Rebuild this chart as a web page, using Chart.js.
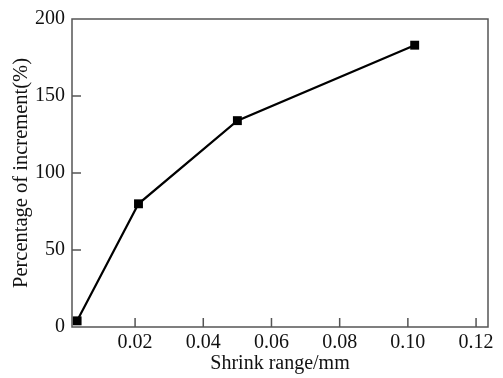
<!DOCTYPE html>
<html>
<head>
<meta charset="utf-8">
<script src="https://cdn.jsdelivr.net/npm/chart.js@4/dist/chart.umd.min.js"></script>
<style>
  html, body { margin: 0; padding: 0; background: #fff; }
  #wrap { width: 503px; height: 378px; }
</style>
</head>
<body>
<div id="wrap"><canvas id="c" width="503" height="378"></canvas></div>
<script>
const shrinkRange = [0.003, 0.021, 0.050, 0.102];
const increment = [4, 80, 134, 183];
const xTickValues = [0.02, 0.04, 0.06, 0.08, 0.10, 0.12];
const yTickValues = [0, 50, 100, 150, 200];
const xTitle = 'Shrink range/mm';
const yTitle = 'Percentage of increment(%)';

const FAMILY = '"Liberation Serif", "DejaVu Serif", serif';
const TICK_FONT = { family: FAMILY, size: 20 };
const XTITLE_FONT = { family: FAMILY, size: 20 };
const YTITLE_FONT = { family: FAMILY, size: 20.5 };
const AXIS_COLOR = '#555';

const frameTicks = {
  id: 'frameTicks',
  afterDraw(chart) {
    const { ctx, chartArea: a, scales } = chart;
    ctx.save();
    ctx.strokeStyle = AXIS_COLOR;
    ctx.lineWidth = 1.5;
    ctx.strokeRect(a.left, a.top, a.right - a.left, a.bottom - a.top);
    ctx.beginPath();
    const TL = 9;
    xTickValues.forEach(v => {
      const px = scales.x.getPixelForValue(v);
      if (px > a.left + 2 && px < a.right - 2) {
        ctx.moveTo(px, a.bottom);
        ctx.lineTo(px, a.bottom - TL);
      }
    });
    yTickValues.forEach(v => {
      const py = scales.y.getPixelForValue(v);
      if (py > a.top + 2 && py < a.bottom - 2) {
        ctx.moveTo(a.left, py);
        ctx.lineTo(a.left + TL, py);
      }
    });
    ctx.stroke();
    ctx.restore();
  }
};

new Chart(document.getElementById('c'), {
  type: 'scatter',
  data: {
    datasets: [{
      data: shrinkRange.map((x, i) => ({ x, y: increment[i] })),
      showLine: true,
      borderColor: '#000',
      borderWidth: 2.2,
      backgroundColor: '#000',
      pointStyle: 'rect',
      pointRadius: 6.3,
      pointHoverRadius: 6.3,
      pointBorderWidth: 0,
      tension: 0
    }]
  },
  options: {
    responsive: false,
    animation: false,
    events: [],
    layout: { padding: { left: 0, right: 15, top: 17, bottom: 0 } },
    plugins: { legend: { display: false }, tooltip: { enabled: false } },
    scales: {
      x: {
        type: 'linear',
        min: 0.0015,
        max: 0.1235,
        afterBuildTicks(scale) { scale.ticks = xTickValues.map(v => ({ value: v })); },
        afterFit(scale) { scale.height = 51; },
        grid: { display: false, drawTicks: false },
        border: { display: false },
        ticks: {
          color: '#111', font: TICK_FONT, padding: 4, maxRotation: 0, autoSkip: false,
          callback: v => Number(v).toFixed(2)
        },
        title: { display: true, text: xTitle, color: '#111', font: XTITLE_FONT, padding: { top: 0, bottom: 2 } }
      },
      y: {
        type: 'linear',
        min: 0,
        max: 200,
        afterBuildTicks(scale) { scale.ticks = yTickValues.map(v => ({ value: v })); },
        afterFit(scale) { scale.width = 72; },
        grid: { display: false, drawTicks: false },
        border: { display: false },
        ticks: { color: '#111', font: TICK_FONT, padding: 7 },
        title: { display: true, text: yTitle, color: '#111', font: YTITLE_FONT, padding: { top: 9, bottom: 0 } }
      }
    }
  },
  plugins: [frameTicks]
});
</script>
</body>
</html>
